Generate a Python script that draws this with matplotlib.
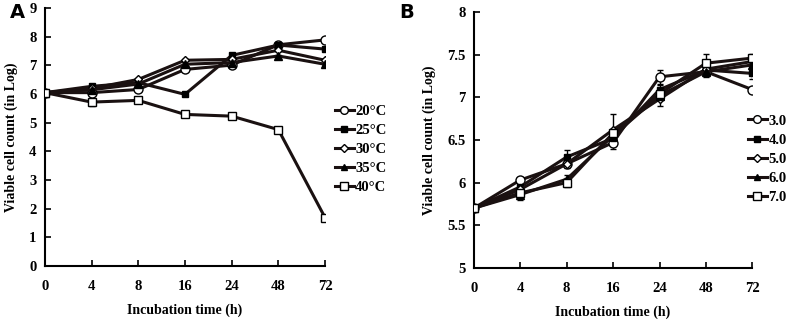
import matplotlib.pyplot as plt
import numpy as np

plt.rcParams["font.family"] = ["Liberation Serif", "DejaVu Serif"]
plt.rcParams["font.weight"] = "bold"

times = ["0", "4", "8", "16", "24", "48", "72"]

# Panel A: temperature
temp_labels = ["20\u00b0C", "25\u00b0C", "30\u00b0C", "35\u00b0C", "40\u00b0C"]
temp_20 = [6.05, 6.05, 6.16, 6.86, 7.01, 7.72, 7.89]
temp_25 = [6.05, 6.27, 6.40, 5.99, 7.35, 7.71, 7.57]
temp_30 = [6.05, 6.20, 6.51, 7.18, 7.21, 7.53, 7.18]
temp_35 = [6.05, 6.15, 6.35, 7.04, 7.10, 7.33, 7.04]
temp_40 = [6.05, 5.72, 5.78, 5.29, 5.23, 4.76, 1.69]
temp_err = [
    [0.03, 0.04, 0.04, 0.04, 0.04, 0.04, 0.04],
    [0.03, 0.04, 0.04, 0.04, 0.04, 0.04, 0.04],
    [0.03, 0.04, 0.04, 0.04, 0.04, 0.04, 0.04],
    [0.03, 0.04, 0.04, 0.04, 0.04, 0.04, 0.04],
    [0.03, 0.12, 0.05, 0.04, 0.04, 0.05, 0.05],
]

# Panel B: pH
ph_labels = ["3.0", "4.0", "5.0", "6.0", "7.0"]
ph_3 = [5.70, 6.03, 6.22, 6.47, 7.24, 7.30, 7.09]
ph_4 = [5.70, 5.95, 6.30, 6.52, 7.09, 7.32, 7.28]
ph_5 = [5.70, 5.92, 6.22, 6.62, 6.98, 7.33, 7.42]
ph_6 = [5.70, 5.86, 6.04, 6.55, 7.02, 7.30, 7.38]
ph_7 = [5.70, 5.88, 6.00, 6.58, 7.04, 7.40, 7.46]
ph_err = [
    [0.03, 0.03, 0.04, 0.07, 0.08, 0.05, 0.03],
    [0.03, 0.04, 0.08, 0.05, 0.05, 0.06, 0.06],
    [0.03, 0.04, 0.05, 0.18, 0.08, 0.06, 0.04],
    [0.03, 0.04, 0.05, 0.05, 0.05, 0.06, 0.05],
    [0.03, 0.08, 0.05, 0.05, 0.05, 0.11, 0.05],
]

styles = [
    dict(marker="o", mfc="white", ms=6.5),
    dict(marker="s", mfc="black", ms=5),
    dict(marker="D", mfc="white", ms=4.5),
    dict(marker="^", mfc="black", ms=5.5),
    dict(marker="s", mfc="white", ms=6),
]

fig = plt.figure(figsize=(7.87, 3.24), dpi=100)
axA = fig.add_axes([0.057, 0.179, 0.356, 0.796])
axB = fig.add_axes([0.602, 0.173, 0.354, 0.790])

x = np.arange(len(times))


def draw(ax, series, errs, labels, ylim, yticks, yticklabels, leg_pos):
    handles = []
    for vals, err, lab, st in zip(series, errs, labels, styles):
        ax.errorbar(x, vals, yerr=err, color="black", lw=0, elinewidth=1,
                    capsize=2, capthick=1, zorder=2)
        h, = ax.plot(x, vals, color="#1a1111", lw=2.2, mec="black", mew=1,
                     label=lab, zorder=3, **st)
        handles.append(h)
    ax.set_xlim(0, len(times) - 1)
    ax.set_ylim(*ylim)
    ax.set_xticks(x)
    ax.set_xticklabels(times)
    ax.set_yticks(yticks)
    ax.set_yticklabels(yticklabels)
    ax.tick_params(direction="in", length=4, width=1.2, labelsize=10.5)
    ax.tick_params(axis="x", pad=10)
    ax.tick_params(axis="y", pad=6)
    for s in ["top", "right"]:
        ax.spines[s].set_visible(False)
    for s in ["left", "bottom"]:
        ax.spines[s].set_linewidth(1.5)
    ax.set_xlabel("Incubation time (h)", fontsize=10, fontweight="bold", labelpad=8)
    ax.set_ylabel("Viable cell count (in Log)", fontsize=10, fontweight="bold", labelpad=8)
    for t in ax.get_xticklabels() + ax.get_yticklabels():
        t.set_fontweight("bold")
    leg = fig.legend(handles=handles, loc="upper left", bbox_to_anchor=leg_pos,
                     frameon=False, fontsize=10.5, handlelength=1.3,
                     handletextpad=0.1, labelspacing=0.4, borderaxespad=0,
                     markerscale=0.85)
    for t in leg.get_texts():
        t.set_fontweight("bold")
    return leg


draw(axA, [temp_20, temp_25, temp_30, temp_35, temp_40], temp_err, temp_labels,
     (0, 9), range(0, 10), [str(v) for v in range(0, 10)], (0.418, 0.695))
bt = [5, 5.5, 6, 6.5, 7, 7.5, 8]
draw(axB, [ph_3, ph_4, ph_5, ph_6, ph_7], ph_err, ph_labels,
     (5, 8), bt, ["5", "5.5", "6", "6.5", "7", "7.5", "8"], (0.943, 0.665))

fig.text(0.012, 0.945, "A", family="DejaVu Sans", fontsize=14, fontweight="bold")
fig.text(0.507, 0.945, "B", family="DejaVu Sans", fontsize=14, fontweight="bold")

fig.savefig("out.png", dpi=100)
